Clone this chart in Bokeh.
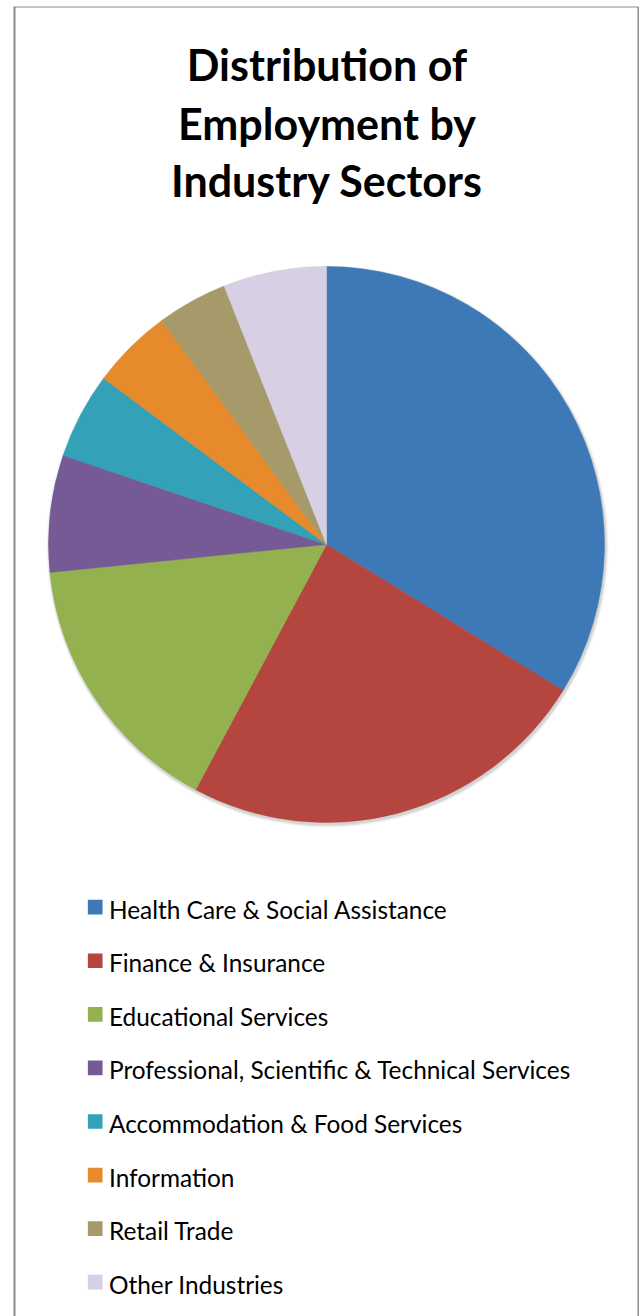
import numpy as np
from bokeh.plotting import figure
from bokeh.models import Range1d, ColumnDataSource
from bokeh.core.properties import value
from bokeh.embed import file_html
from bokeh.resources import INLINE

# ---- data ----
title_lines = ["Distribution of", "Employment by", "Industry Sectors"]
categories = [
    "Health Care & Social Assistance",
    "Finance & Insurance",
    "Educational Services",
    "Professional, Scientific & Technical Services",
    "Accommodation & Food Services",
    "Information",
    "Retail Trade",
    "Other Industries",
]
shares = [33.8, 24.0, 15.6, 6.8, 5.0, 4.7, 4.1, 6.0]
colors = ["#3D79B6", "#B5453F", "#93B14E", "#755A95",
          "#33A1B8", "#E68A2B", "#A6996A", "#D7CFE3"]

# ---- layout (page px -> data: x, 1316-y) ----
W, H = 639, 1316
p = figure(width=W, height=H, x_range=Range1d(0, W), y_range=Range1d(0, H),
           output_backend="svg", toolbar_location=None, min_border=0,
           x_axis_location=None, y_axis_location=None, tools="")
p.grid.visible = False
p.outline_line_color = None
p.background_fill_color = "white"
p.border_fill_color = "white"

# frame
p.multi_line(xs=[[14, 14], [13, 638], [638, 638]],
             ys=[[0, 1309.5], [1309.5, 1309.5], [1309.5, 0]],
             line_color="#8c8c8c", line_width=[2, 1, 2])

# title
p.text(x=[326.5] * 3, y=[1316 - 63.5, 1316 - 122.5, 1316 - 180], text=title_lines,
       text_font=value("Lato"), text_font_style="bold", text_font_size="43px",
       text_align="center", text_baseline="middle", text_color="black")

# pie
cx, cy, R = 326, 772, 278
frac = np.array(shares) / np.sum(shares)
cum = np.cumsum(frac)
start = np.pi / 2 - 2 * np.pi * (cum - frac)
end = np.pi / 2 - 2 * np.pi * cum

# soft shadow
for dr, a in [(3, 0.04), (2, 0.06), (1, 0.08)]:
    p.circle(x=cx + 1, y=cy - 2, radius=R + dr, fill_color="black",
             fill_alpha=a, line_color=None)

src = ColumnDataSource(dict(cat=categories, start=start, end=end, color=colors))
p.wedge(x=cx, y=cy, radius=R, start_angle="start", end_angle="end",
        direction="clock", fill_color="color", line_color="color",
        line_width=0.5, source=src)

# legend
n = len(categories)
step = 53.57
idx = np.arange(n)
leg = ColumnDataSource(dict(
    cat=categories, color=colors,
    sy=(1316 - 906.7) - step * idx,
    ty=(1316 - 908.7) - step * idx,
))
p.rect(x=94.7, y="sy", width=14.7, height=14.7, fill_color="color",
       line_color=None, source=leg)
p.text(x=108.5, y="ty", text="cat", text_font=value("Lato"),
       text_font_size="24.4px", text_align="left", text_baseline="middle",
       text_color="black", source=leg)

open("out.html", "w").write(file_html(p, INLINE))
